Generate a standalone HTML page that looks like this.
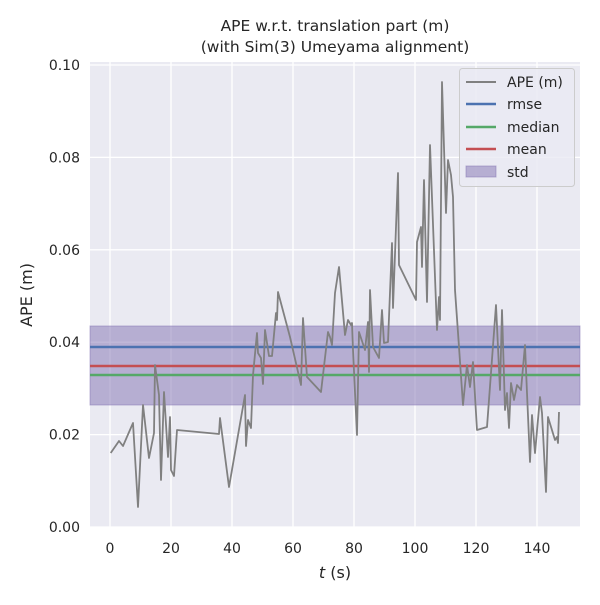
<!DOCTYPE html>
<html><head><style>body{margin:0;background:#fff}svg{font-family:"DejaVu Sans","Liberation Sans",sans-serif}</style></head><body>
<svg width="600" height="600" viewBox="0 0 600 600">
<rect x="90" y="62" width="490" height="465" fill="#eaeaf2"/>
<g stroke="#fff" stroke-width="1.3">
<line x1="110" y1="62" x2="110" y2="527"/><line x1="171" y1="62" x2="171" y2="527"/><line x1="232" y1="62" x2="232" y2="527"/><line x1="293" y1="62" x2="293" y2="527"/><line x1="354" y1="62" x2="354" y2="527"/><line x1="415" y1="62" x2="415" y2="527"/><line x1="476" y1="62" x2="476" y2="527"/><line x1="537" y1="62" x2="537" y2="527"/>
<line x1="90" y1="527" x2="580" y2="527"/><line x1="90" y1="434.6" x2="580" y2="434.6"/><line x1="90" y1="342.2" x2="580" y2="342.2"/><line x1="90" y1="249.8" x2="580" y2="249.8"/><line x1="90" y1="157.4" x2="580" y2="157.4"/><line x1="90" y1="65" x2="580" y2="65"/>
</g>
<rect x="90" y="326" width="490" height="79" fill="#8172b2" fill-opacity="0.5" stroke="#8172b2" stroke-opacity="0.5"/>
<line x1="90" y1="347" x2="580" y2="347" stroke="#4c72b0" stroke-width="2.5"/>
<line x1="90" y1="366" x2="580" y2="366" stroke="#c44e52" stroke-width="2.5"/>
<line x1="90" y1="375" x2="580" y2="375" stroke="#55a868" stroke-width="2.5"/>
<polyline fill="none" stroke="#808080" stroke-width="1.8" stroke-linejoin="round" points="110.7,453 119,441 123,446 133,423 138,507 143,405 149,458 154,433 155,365 159,395 161,480 164,392 168,457 170,417 171,470 174,476 177,430 219,434 220,418 229,487 245,395 246,446 248,420 251,428 253,375 257,333 258,353 261,358 263,384 265,330 269,356 272,356 276,313 277,320 278,292 290,337 301,385 303,318 307,377 321,392 328,332 330,337 332,345 335,293 339,267 345,335 348,320 351,325 352,323 353,350 357,435 359,332 365,350 368,322 369,372 370,290 373,347 379,358 382,310 384,343 388,342 392,243 393,308 398,173 399,265 416,300 417,242 421,227 422,267 424,180 427,302 430,145 437,330 439,297 440,320 442,82 446,213 448,160 451,175 453,197 455,290 459,347 463,405 467,365 470,387 473,362 477,430 487,427 496,305 500,390 502,310 505,410 507,393 509,428 511,383 514,400 517,385 521,390 525,345 527,393 530,462 532,415 535,453 540,397 542,413 546,492 548,417 555,440 557,437 558,443 559,412"/>
<rect x="459.5" y="68.5" width="115" height="118" rx="3" fill="#eaeaf2" fill-opacity="0.8" stroke="#ccc"/>
<g font-size="14" fill="#262626">
<line x1="466" y1="82" x2="496" y2="82" stroke="#808080" stroke-width="2"/><text x="507" y="87">APE (m)</text>
<line x1="466" y1="104" x2="496" y2="104" stroke="#4c72b0" stroke-width="2.5"/><text x="507" y="109">rmse</text>
<line x1="466" y1="127" x2="496" y2="127" stroke="#55a868" stroke-width="2.5"/><text x="507" y="132">median</text>
<line x1="466" y1="149" x2="496" y2="149" stroke="#c44e52" stroke-width="2.5"/><text x="507" y="154">mean</text>
<rect x="466" y="166" width="30" height="11" fill="#8172b2" fill-opacity="0.5" stroke="#8172b2" stroke-opacity="0.5"/><text x="507" y="177">std</text>
</g>
<g font-size="14" fill="#262626" text-anchor="end">
<text x="80" y="532">0.00</text><text x="80" y="439.6">0.02</text><text x="80" y="347.2">0.04</text><text x="80" y="254.8">0.06</text><text x="80" y="162.4">0.08</text><text x="80" y="70">0.10</text>
</g>
<g font-size="14" fill="#262626" text-anchor="middle">
<text x="110" y="553">0</text><text x="171" y="553">20</text><text x="232" y="553">40</text><text x="293" y="553">60</text><text x="354" y="553">80</text><text x="415" y="553">100</text><text x="476" y="553">120</text><text x="537" y="553">140</text>
<text x="335" y="578" font-size="16"><tspan font-style="italic">t</tspan> (s)</text>
<text x="335" y="31" font-size="15.5">APE w.r.t. translation part (m)</text>
<text x="335" y="52" font-size="15.5">(with Sim(3) Umeyama alignment)</text>
<text transform="translate(32,295) rotate(-90)" font-size="16">APE (m)</text>
</g>
</svg>
</body></html>
